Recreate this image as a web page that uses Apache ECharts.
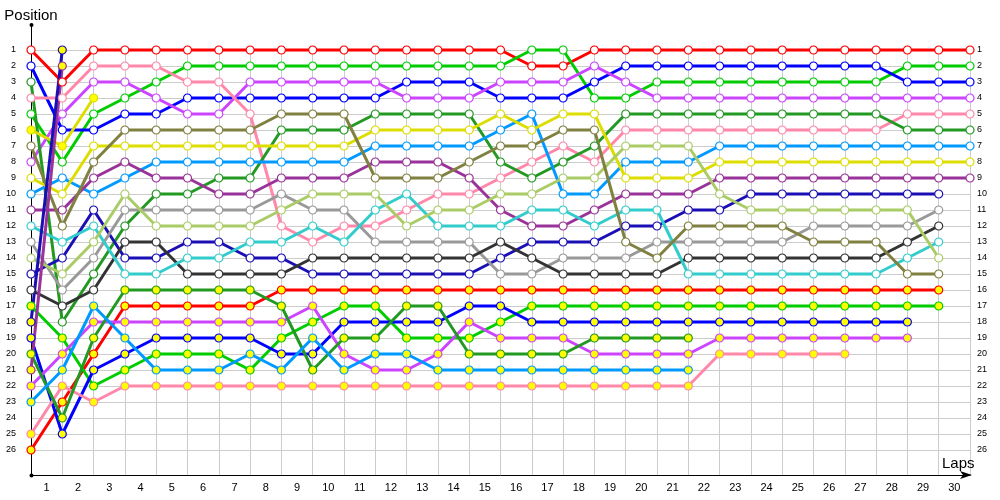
<!DOCTYPE html>
<html>
<head>
<meta charset="utf-8">
<script src="https://cdn.jsdelivr.net/npm/echarts@6/dist/echarts.min.js"></script>
<style>
    html, body {
        margin: 0;
        padding: 0;
        background: #fff;
    }

    #lapChart {
        width: 1000px;
        height: 500px;
    }
</style>
</head>
<body>
<div id="lapChart"></div>
<script>
    // labels shown under the axis, one per lap
    const lapLabels = ['1', '2', '3', '4', '5', '6', '7', '8', '9', '10', '11', '12', '13', '14', '15',
        '16', '17', '18', '19', '20', '21', '22', '23', '24', '25', '26', '27', '28', '29', '30'];

    // position of each car per lap, index = lap (0 = grid)
    const red1 = [1, 3, 1, 1, 1, 1, 1, 1, 1, 1, 1, 1, 1, 1, 1, 1, 2, 2, 1, 1, 1, 1, 1, 1, 1, 1, 1, 1, 1, 1, 1];
    const green1 = [5, 8, 5, 4, 3, 2, 2, 2, 2, 2, 2, 2, 2, 2, 2, 2, 1, 1, 4, 4, 3, 3, 3, 3, 3, 3, 3, 3, 2, 2, 2];
    const blue1 = [2, 6, 6, 5, 5, 4, 4, 4, 4, 4, 4, 4, 3, 3, 3, 4, 4, 4, 3, 2, 2, 2, 2, 2, 2, 2, 2, 2, 3, 3, 3];
    const magenta1 = [8, 5, 3, 3, 4, 5, 5, 3, 3, 3, 3, 3, 4, 4, 4, 3, 3, 3, 2, 3, 4, 4, 4, 4, 4, 4, 4, 4, 4, 4, 4];
    const pink1 = [4, 4, 2, 2, 2, 3, 3, 5, 12, 13, 12, 12, 11, 10, 10, 9, 8, 7, 8, 6, 6, 6, 6, 6, 6, 6, 6, 6, 5, 5, 5];
    const dkgreen1 = [3, 18, 15, 12, 10, 10, 9, 9, 6, 6, 6, 5, 5, 5, 5, 8, 9, 8, 7, 5, 5, 5, 5, 5, 5, 5, 5, 5, 6, 6, 6];
    const ltblue1 = [10, 9, 10, 9, 8, 8, 8, 8, 8, 8, 8, 7, 7, 7, 7, 6, 5, 10, 10, 8, 8, 8, 7, 7, 7, 7, 7, 7, 7, 7, 7];
    const yellow1 = [9, 10, 7, 7, 7, 7, 7, 7, 7, 7, 7, 6, 6, 6, 6, 5, 6, 5, 5, 9, 9, 9, 8, 8, 8, 8, 8, 8, 8, 8, 8];
    const purple1 = [11, 11, 9, 8, 9, 9, 10, 10, 9, 9, 9, 8, 8, 8, 9, 11, 12, 12, 11, 10, 10, 10, 9, 9, 9, 9, 9, 9, 9, 9, 9];
    const navy1 = [15, 14, 11, 14, 14, 13, 13, 14, 14, 15, 15, 15, 15, 15, 15, 14, 13, 13, 13, 12, 12, 11, 11, 10, 10, 10, 10, 10, 10, 10];
    const grey1 = [13, 16, 14, 11, 11, 11, 11, 11, 10, 11, 11, 13, 13, 13, 13, 15, 15, 14, 14, 14, 13, 13, 13, 13, 13, 12, 12, 12, 12, 11];
    const black1 = [16, 17, 16, 13, 13, 15, 15, 15, 15, 14, 14, 14, 14, 14, 14, 13, 14, 15, 15, 15, 15, 14, 14, 14, 14, 14, 14, 14, 13, 12];
    const cyan1 = [12, 13, 12, 15, 15, 14, 14, 13, 13, 12, 13, 11, 10, 12, 12, 12, 11, 11, 12, 11, 11, 15, 15, 15, 15, 15, 15, 15, 14, 13];
    const ltgreen1 = [14, 15, 13, 10, 12, 12, 12, 12, 11, 10, 10, 10, 12, 11, 11, 10, 10, 9, 9, 7, 7, 7, 10, 11, 11, 11, 11, 11, 11, 14];
    const olive1 = [7, 12, 8, 6, 6, 6, 6, 6, 5, 5, 5, 9, 9, 9, 8, 7, 7, 6, 6, 13, 14, 12, 12, 12, 12, 13, 13, 13, 15, 15];

    const red2 = [26, 23, 20, 17, 17, 17, 17, 17, 16, 16, 16, 16, 16, 16, 16, 16, 16, 16, 16, 16, 16, 16, 16, 16, 16, 16, 16, 16, 16, 16];
    const green2 = [17, 19, 22, 21, 20, 20, 20, 21, 19, 18, 17, 17, 19, 19, 19, 18, 17, 17, 17, 17, 17, 17, 17, 17, 17, 17, 17, 17, 17, 17];
    const blue2 = [19, 25, 21, 20, 19, 19, 19, 19, 20, 20, 18, 18, 18, 18, 17, 17, 18, 18, 18, 18, 18, 18, 18, 18, 18, 18, 18, 18, 18];
    const magenta2 = [22, 20, 18, 18, 18, 18, 18, 18, 18, 17, 20, 21, 21, 20, 18, 19, 19, 19, 20, 20, 20, 20, 19, 19, 19, 19, 19, 19, 19];
    const pink2 = [25, 22, 23, 22, 22, 22, 22, 22, 22, 22, 22, 22, 22, 22, 22, 22, 22, 22, 22, 22, 22, 22, 20, 20, 20, 20, 20];
    const dkgreen2 = [20, 24, 19, 16, 16, 16, 16, 16, 17, 21, 19, 19, 17, 17, 20, 20, 20, 20, 19, 19, 19, 19];
    const ltblue2 = [23, 21, 17, 19, 21, 21, 21, 20, 21, 19, 21, 20, 20, 21, 21, 21, 21, 21, 21, 21, 21, 21];
    const yellow2 = [6, 7, 4];
    const purple2 = [21, 2];
    const navy2 = [18, 1];

    const gridLeft = 31;
    const gridTop = 50;
    const gridRight = 30;
    const gridBottom = 25;
    const fontName = 'Liberation Sans';

    function lapSeries(name, positions, color, fill) {
        return {
            name: name,
            type: 'line',
            xAxisIndex: 0,
            yAxisIndex: 0,
            data: positions.map((p, lap) => [lap, p]),
            symbol: 'circle',
            symbolSize: 8,
            clip: false,
            silent: true,
            lineStyle: { color: color, width: 3 },
            itemStyle: { color: fill, borderColor: color, borderWidth: 1.2 },
            emphasis: { disabled: true }
        };
    }

    const white = '#ffffff';
    const yel = '#ffff00';

    const series = [
        lapSeries('red1', red1, '#ff0000', white),
        lapSeries('green1', green1, '#00cc00', white),
        lapSeries('blue1', blue1, '#0000ff', white),
        lapSeries('magenta1', magenta1, '#cc44ff', white),
        lapSeries('pink1', pink1, '#ff88aa', white),
        lapSeries('dkgreen1', dkgreen1, '#229922', white),
        lapSeries('ltblue1', ltblue1, '#0099ff', white),
        lapSeries('yellow1', yellow1, '#dddd00', white),
        lapSeries('purple1', purple1, '#993399', white),
        lapSeries('navy1', navy1, '#1a0fb5', white),
        lapSeries('grey1', grey1, '#999999', white),
        lapSeries('black1', black1, '#333333', white),
        lapSeries('cyan1', cyan1, '#33cccc', white),
        lapSeries('ltgreen1', ltgreen1, '#aacc66', white),
        lapSeries('olive1', olive1, '#808040', white),
        lapSeries('red2', red2, '#ff0000', yel),
        lapSeries('green2', green2, '#00cc00', yel),
        lapSeries('blue2', blue2, '#0000ff', yel),
        lapSeries('magenta2', magenta2, '#cc44ff', yel),
        lapSeries('pink2', pink2, '#ff88aa', yel),
        lapSeries('dkgreen2', dkgreen2, '#229922', yel),
        lapSeries('ltblue2', ltblue2, '#0099ff', yel),
        lapSeries('yellow2', yellow2, '#dddd00', yel),
        lapSeries('purple2', purple2, '#993399', yel),
        lapSeries('navy2', navy2, '#1a0fb5', yel)
    ];

    // 26 visible grid lines, the ones at 27 and at the axis end stay hidden
    const rowLineColors = [];
    for (let i = 0; i < 26; i++) {
        rowLineColors.push('#cccccc');
    }
    rowLineColors.push('rgba(0,0,0,0)', 'rgba(0,0,0,0)');

    const posLabel = v => (Number.isInteger(v) && v <= 26) ? String(v) : '';

    const option = {
        animation: false,
        backgroundColor: '#fff',
        grid: {
            left: gridLeft,
            right: gridRight,
            top: gridTop,
            bottom: gridBottom,
            containLabel: false,
            outerBoundsMode: 'none'
        },
        xAxis: [{
            type: 'value',
            min: 0,
            max: 30,
            interval: 1,
            position: 'bottom',
            name: 'Laps',
            nameLocation: 'end',
            nameGap: -28,
            nameTextStyle: {
                fontFamily: fontName,
                fontSize: 15,
                color: '#000',
                align: 'left',
                verticalAlign: 'bottom',
                padding: [0, 0, 4, 0]
            },
            axisLine: {
                onZero: false,
                lineStyle: { color: '#000', width: 1 },
                symbol: ['none', 'arrow'],
                symbolSize: [6, 12],
                symbolOffset: [0, 2]
            },
            axisTick: { show: false },
            axisLabel: { show: false },
            splitLine: { show: true, lineStyle: { color: '#cccccc', width: 1 } }
        }, {
            type: 'category',
            data: lapLabels,
            boundaryGap: true,
            position: 'bottom',
            axisLine: { show: false, onZero: false },
            axisTick: { show: false },
            splitLine: { show: false },
            axisLabel: {
                interval: 0,
                margin: 7,
                fontFamily: fontName,
                fontSize: 11,
                color: '#000'
            }
        }],
        yAxis: [{
            type: 'value',
            inverse: true,
            min: 1,
            max: 27.5625,
            interval: 1,
            position: 'left',
            name: 'Position',
            nameLocation: 'start',
            nameGap: 27,
            nameTextStyle: {
                fontFamily: fontName,
                fontSize: 15,
                color: '#000',
                align: 'center',
                verticalAlign: 'bottom'
            },
            axisLine: { show: true, onZero: false, lineStyle: { color: '#000', width: 1 } },
            axisTick: { show: false },
            axisLabel: {
                formatter: posLabel,
                margin: 15,
                fontFamily: fontName,
                fontSize: 9,
                color: '#000'
            },
            splitLine: { show: true, lineStyle: { color: rowLineColors, width: 1 } }
        }, {
            type: 'value',
            inverse: true,
            min: 1,
            max: 27.5625,
            interval: 1,
            position: 'right',
            axisLine: { show: false },
            axisTick: { show: false },
            axisLabel: {
                formatter: posLabel,
                margin: 7,
                fontFamily: fontName,
                fontSize: 9,
                color: '#000'
            },
            splitLine: { show: false }
        }],
        graphic: [{
            type: 'line',
            shape: { x1: gridLeft + 0.5, y1: 25, x2: gridLeft + 0.5, y2: gridTop },
            style: { stroke: '#000', lineWidth: 1 },
            silent: true
        }, {
            type: 'circle',
            shape: { cx: gridLeft + 0.5, cy: 25, r: 2 },
            style: { fill: '#000' },
            silent: true
        }, {
            type: 'circle',
            shape: { cx: gridLeft + 0.5, cy: 500 - gridBottom + 0.5, r: 2 },
            style: { fill: '#000' },
            silent: true
        }],
        series: series
    };

    const lapChart = echarts.init(document.getElementById('lapChart'), null, { renderer: 'canvas' });
    lapChart.setOption(option);
    window.onresize = lapChart.resize;
</script>
</body>
</html>
